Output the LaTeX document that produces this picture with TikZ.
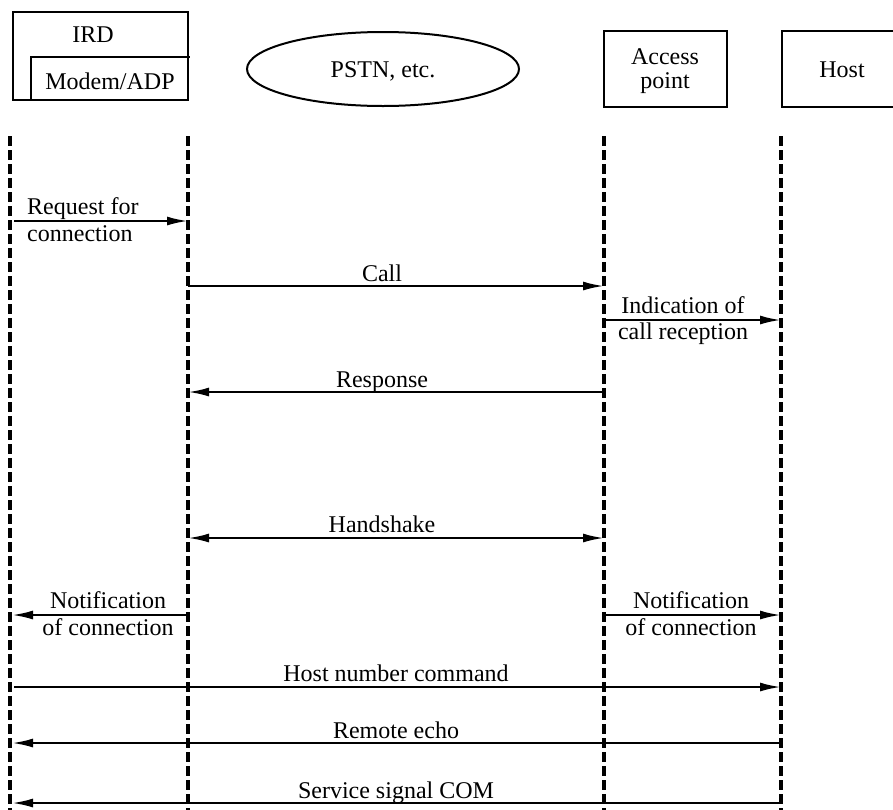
\documentclass[tikz,border=0pt]{standalone}
\usepackage{fontspec}
\setmainfont{Liberation Serif}
\usetikzlibrary{arrows.meta,shapes.geometric}
\begin{document}
\begin{tikzpicture}[x=1pt,y=-1pt,
  box/.style={draw,line width=2pt},
  lifeline/.style={line width=3.3pt,dash pattern=on 10pt off 4pt},
  msg/.style={line width=2.3pt,-{Latex[length=21pt,width=9pt]}},
  msgboth/.style={line width=2.3pt,{Latex[length=21pt,width=9pt]}-{Latex[length=21pt,width=9pt]}},
  lbl/.style={anchor=base,inner sep=0pt,font=\fontsize{24}{28}\selectfont}]
\useasboundingbox (0,0) rectangle (893,809);
% heads
\draw[box] (13,12) rectangle (188,100);
\draw[box] (31,100) |- (190,57);
\node[lbl] (ird) at (93,42) {IRD};
\node[lbl] (modem) at (110,89) {Modem/ADP};
\node[ellipse,draw,line width=2pt,minimum width=272pt,minimum height=74pt,inner sep=0pt] (pstn) at (383,69) {};
\node[lbl] (pstnt) at (383,77) {PSTN, etc.};
\draw[box] (604,31) rectangle (727,107);
\node[lbl] (ap1) at (665,64) {Access};
\node[lbl] (ap2) at (665,88) {point};
\draw[box] (782,31) rectangle (896,107);
\node[lbl] (host) at (842,77) {Host};
% lifelines
\coordinate (L1t) at (10,136); \coordinate (L1b) at (10,812);
\coordinate (L2t) at (188,136); \coordinate (L2b) at (188,812);
\coordinate (L3t) at (604,136); \coordinate (L3b) at (604,812);
\coordinate (L4t) at (781,136); \coordinate (L4b) at (781,812);
\draw[lifeline] (L1t) -- (L1b);
\draw[lifeline] (L2t) -- (L2b);
\draw[lifeline] (L3t) -- (L3b);
\draw[lifeline] (L4t) -- (L4b);
% messages
\coordinate (a1) at (14,221); \coordinate (b1) at (188,221);
\draw[msg] (a1) -- (b1);
\node[lbl,anchor=base west] (t1a) at (27,214) {Request for};
\node[lbl,anchor=base west] (t1b) at (27,241) {connection};

\coordinate (a2) at (188,286); \coordinate (b2) at (604,286);
\draw[msg] (a2) -- (b2);
\node[lbl] (t2) at (382,281) {Call};

\coordinate (a3) at (604,320); \coordinate (b3) at (781,320);
\draw[msg] (a3) -- (b3);
\node[lbl] (t3a) at (683,313) {Indication of};
\node[lbl] (t3b) at (683,339) {call reception};

\coordinate (a4) at (604,392); \coordinate (b4) at (188,392);
\draw[msg] (a4) -- (b4);
\node[lbl] (t4) at (382,387) {Response};

\coordinate (a5) at (188,538); \coordinate (b5) at (604,538);
\draw[msgboth] (a5) -- (b5);
\node[lbl] (t5) at (382,532) {Handshake};

\coordinate (a6) at (188,615); \coordinate (b6) at (12,615);
\draw[msg] (a6) -- (b6);
\node[lbl] (t6a) at (108,608) {Notification};
\node[lbl] (t6b) at (108,635) {of connection};

\coordinate (a7) at (604,615); \coordinate (b7) at (781,615);
\draw[msg] (a7) -- (b7);
\node[lbl] (t7a) at (691,608) {Notification};
\node[lbl] (t7b) at (691,635) {of connection};

\coordinate (a8) at (14,687); \coordinate (b8) at (781,687);
\draw[msg] (a8) -- (b8);
\node[lbl] (t8) at (396,681) {Host number command};

\coordinate (a9) at (781,743); \coordinate (b9) at (12,743);
\draw[msg] (a9) -- (b9);
\node[lbl] (t9) at (396,738) {Remote echo};

\coordinate (a10) at (781,803); \coordinate (b10) at (12,803);
\draw[msg] (a10) -- (b10);
\node[lbl] (t10) at (396,798) {Service signal COM};
\end{tikzpicture}
\end{document}
